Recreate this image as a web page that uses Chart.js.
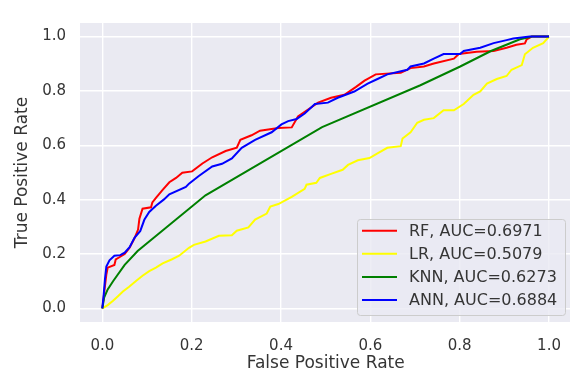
<!DOCTYPE html>
<html>
<head>
<meta charset="utf-8">
<script src="https://cdn.jsdelivr.net/npm/chart.js@4"></script>
<style>
  html, body { margin: 0; padding: 0; background: #fff; overflow: hidden; }
  canvas { display: block; }
</style>
</head>
<body>
<canvas id="myChart" width="576" height="378"></canvas>
<script>
// ROC curves
const models = ['RF', 'LR', 'KNN', 'ANN']
const aucs = ['0.6971', '0.5079', '0.6273', '0.6884']
const colors = ['red', 'yellow', 'green', 'blue']

const rfFpr = [0, 0.003, 0.005, 0.009, 0.012, 0.027, 0.03, 0.04, 0.05, 0.061, 0.072, 0.08, 0.083, 0.09, 0.109, 0.112, 0.12, 0.135, 0.15, 0.165, 0.179, 0.201, 0.224, 0.246, 0.276, 0.301, 0.309, 0.334, 0.353, 0.394, 0.424, 0.438, 0.468, 0.483, 0.512, 0.542, 0.568, 0.587, 0.612, 0.668, 0.69, 0.72, 0.742, 0.787, 0.798, 0.838, 0.876, 0.905, 0.927, 0.946, 0.95, 0.961, 1]
const rfTpr = [0, 0.04, 0.07, 0.125, 0.15, 0.16, 0.18, 0.19, 0.2, 0.223, 0.258, 0.29, 0.33, 0.367, 0.372, 0.39, 0.407, 0.436, 0.464, 0.48, 0.499, 0.504, 0.533, 0.556, 0.579, 0.591, 0.62, 0.637, 0.654, 0.664, 0.666, 0.706, 0.74, 0.757, 0.775, 0.786, 0.815, 0.838, 0.861, 0.867, 0.884, 0.89, 0.901, 0.919, 0.936, 0.944, 0.947, 0.959, 0.97, 0.975, 0.99, 1, 1]

const lrFpr = [0, 0.012, 0.024, 0.035, 0.046, 0.06, 0.076, 0.09, 0.105, 0.12, 0.135, 0.155, 0.172, 0.194, 0.205, 0.231, 0.261, 0.29, 0.301, 0.327, 0.342, 0.368, 0.376, 0.394, 0.424, 0.453, 0.457, 0.479, 0.487, 0.512, 0.538, 0.55, 0.572, 0.598, 0.616, 0.638, 0.668, 0.672, 0.69, 0.705, 0.72, 0.742, 0.764, 0.787, 0.809, 0.831, 0.846, 0.861, 0.883, 0.905, 0.916, 0.939, 0.946, 0.964, 0.987, 1]
const lrTpr = [0, 0.012, 0.028, 0.045, 0.062, 0.08, 0.102, 0.12, 0.137, 0.15, 0.166, 0.18, 0.194, 0.223, 0.234, 0.246, 0.267, 0.269, 0.286, 0.298, 0.327, 0.349, 0.375, 0.384, 0.41, 0.44, 0.455, 0.462, 0.48, 0.495, 0.51, 0.528, 0.545, 0.553, 0.57, 0.591, 0.597, 0.625, 0.648, 0.683, 0.694, 0.7, 0.729, 0.729, 0.752, 0.786, 0.798, 0.827, 0.844, 0.855, 0.878, 0.895, 0.935, 0.959, 0.976, 1]

const knnFpr = [0, 0.004, 0.012, 0.024, 0.05, 0.079, 0.231, 0.492, 0.712, 0.8, 0.87, 0.935, 0.962, 1]
const knnTpr = [0, 0.04, 0.07, 0.1, 0.16, 0.211, 0.416, 0.667, 0.821, 0.889, 0.947, 0.99, 1, 1]

const annFpr = [0, 0.003, 0.006, 0.009, 0.016, 0.027, 0.04, 0.05, 0.061, 0.072, 0.085, 0.094, 0.105, 0.12, 0.138, 0.15, 0.187, 0.194, 0.216, 0.246, 0.268, 0.29, 0.312, 0.342, 0.379, 0.401, 0.416, 0.435, 0.453, 0.476, 0.505, 0.527, 0.564, 0.594, 0.616, 0.638, 0.683, 0.69, 0.72, 0.742, 0.764, 0.801, 0.809, 0.846, 0.876, 0.905, 0.92, 0.957, 1]
const annTpr = [0, 0.05, 0.11, 0.154, 0.177, 0.194, 0.196, 0.205, 0.225, 0.26, 0.285, 0.326, 0.355, 0.378, 0.401, 0.42, 0.447, 0.459, 0.487, 0.522, 0.532, 0.552, 0.591, 0.62, 0.648, 0.677, 0.689, 0.697, 0.717, 0.752, 0.757, 0.775, 0.798, 0.827, 0.844, 0.861, 0.878, 0.89, 0.901, 0.919, 0.936, 0.936, 0.947, 0.959, 0.976, 0.987, 0.993, 1, 1]

const tickValues = [0, 0.2, 0.4, 0.6, 0.8, 1.0]

const curves = [[rfFpr, rfTpr], [lrFpr, lrTpr], [knnFpr, knnTpr], [annFpr, annTpr]]

const FONT = "'DejaVu Sans', sans-serif"
const TEXT = '#353535'

// seaborn darkgrid background
const bgPlugin = {
    id: 'bg',
    beforeDraw(chart) {
        const {ctx, chartArea: a} = chart
        ctx.save()
        ctx.fillStyle = '#EAEAF2'
        ctx.fillRect(a.left, a.top, a.right - a.left, a.bottom - a.top)
        ctx.restore()
    }
}

// legend box in lower right, like matplotlib's
const legendPlugin = {
    id: 'boxLegend',
    afterDatasetsDraw(chart) {
        const ctx = chart.ctx
        const x = 357.5, y = 219.5, w = 208, h = 96
        ctx.save()
        ctx.beginPath()
        ctx.roundRect(x, y, w, h, 3)
        ctx.fillStyle = 'rgba(234,234,242,0.8)'
        ctx.fill()
        ctx.strokeStyle = '#cccccc'
        ctx.lineWidth = 1
        ctx.stroke()
        ctx.font = '16px ' + FONT
        ctx.textBaseline = 'middle'
        chart.data.datasets.forEach((ds, i) => {
            const ry = 230.7 + i * 23.1
            ctx.beginPath()
            ctx.moveTo(362, ry)
            ctx.lineTo(397, ry)
            ctx.strokeStyle = ds.borderColor
            ctx.lineWidth = 2
            ctx.stroke()
            ctx.fillStyle = TEXT
            ctx.fillText(ds.label, 409, ry + 1)
        })
        ctx.restore()
    }
}

const ctx = document.getElementById('myChart').getContext('2d')

const myChart = new Chart(ctx, {
    type: 'line',
    data: {
        datasets: models.map((m, i) => ({
            label: `${m}, AUC=${aucs[i]}`,
            data: curves[i][0].map((fx, j) => ({x: fx, y: curves[i][1][j]})),
            borderColor: colors[i],
            borderWidth: 2,
            pointRadius: 0,
            tension: 0,
            fill: false,
            order: models.length - i
        }))
    },
    options: {
        responsive: false,
        animation: false,
        layout: {padding: {top: 4, right: 1, left: 0, bottom: 0}},
        plugins: {
            legend: {display: false},
            tooltip: {enabled: false}
        },
        scales: {
            x: {
                type: 'linear',
                min: -0.05,
                max: 1.05,
                afterBuildTicks: (s) => { s.ticks = tickValues.map((v) => ({value: v})) },
                afterFit: (s) => { s.height = 56 },
                grid: {color: '#ffffff', lineWidth: 1.4, drawTicks: false},
                border: {display: false},
                ticks: {
                    padding: 15,
                    maxRotation: 0,
                    autoSkip: false,
                    color: TEXT,
                    font: {family: FONT, size: 15},
                    callback: (v) => v.toFixed(1)
                },
                title: {
                    display: true,
                    text: 'False Positive Rate',
                    color: TEXT,
                    font: {family: FONT, size: 17},
                    padding: {top: 0, bottom: 4}
                }
            },
            y: {
                type: 'linear',
                min: -0.05,
                max: 1.05,
                afterBuildTicks: (s) => { s.ticks = tickValues.map((v) => ({value: v})) },
                afterFit: (s) => { s.width = 80 },
                grid: {color: '#ffffff', lineWidth: 1.4, drawTicks: false},
                border: {display: false},
                ticks: {
                    padding: 14,
                    autoSkip: false,
                    color: TEXT,
                    font: {family: FONT, size: 15},
                    callback: (v) => v.toFixed(1)
                },
                title: {
                    display: true,
                    text: 'True Positive Rate',
                    color: TEXT,
                    font: {family: FONT, size: 17},
                    padding: {top: 12, bottom: 0}
                }
            }
        }
    },
    plugins: [bgPlugin, legendPlugin]
})
</script>
</body>
</html>
